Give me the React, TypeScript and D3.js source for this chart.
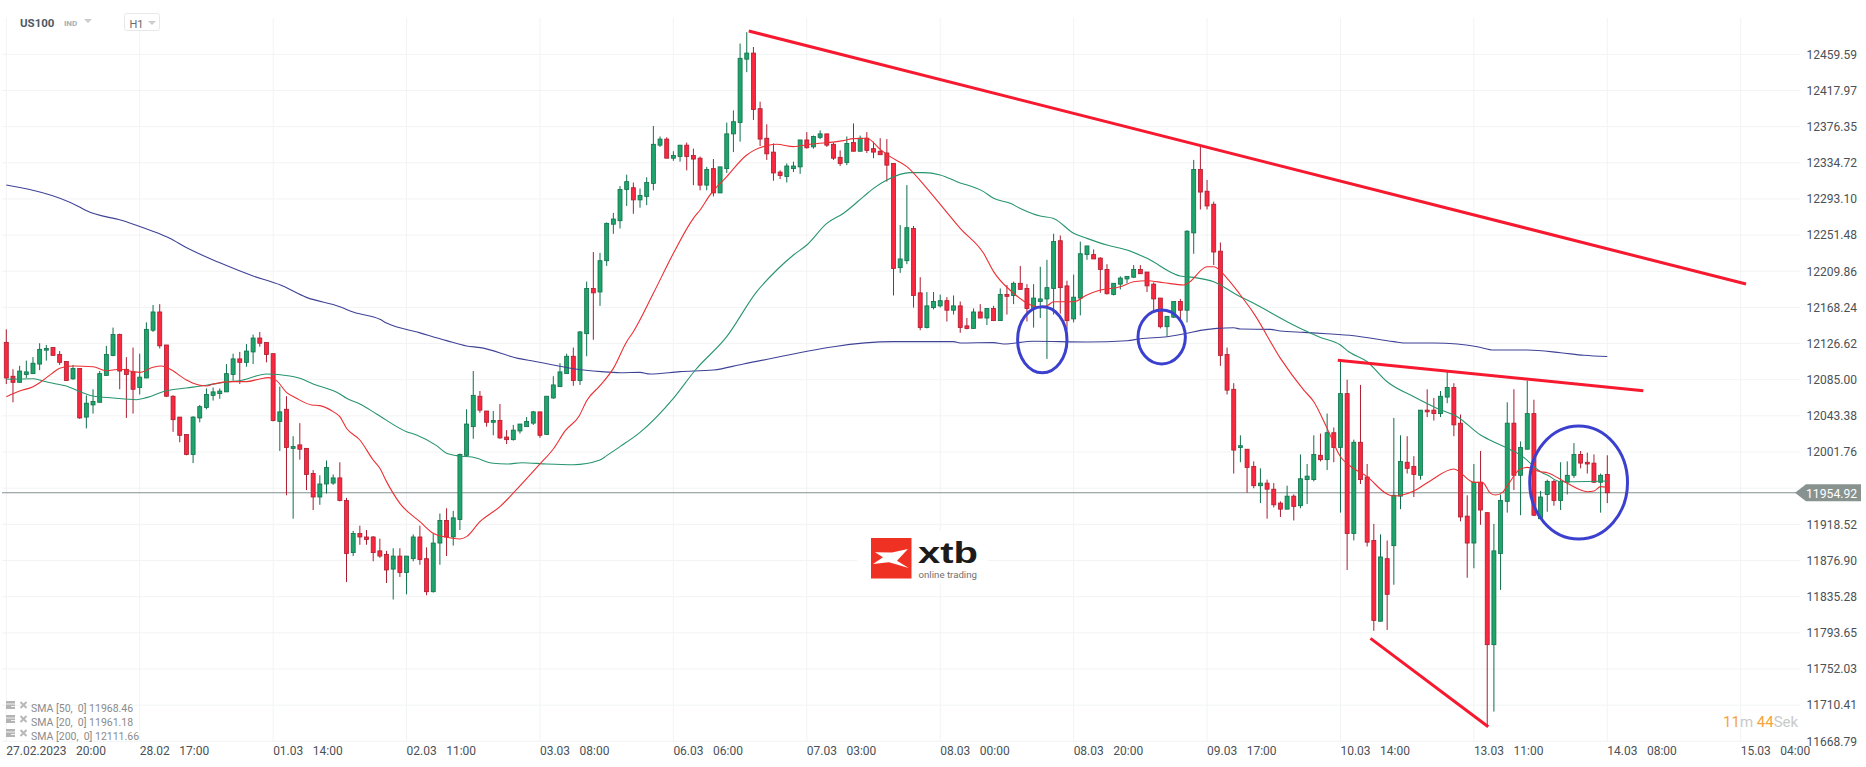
import React, { useRef, useEffect } from 'react';
import * as d3 from 'd3';

// hourly candles, bar 0 = 27.02 20:00, 20 bars between two time labels
const opens = [
  12128,12089,12082,12091,12092,12103,12119,12122,12114,12106,12086,12098,12042,12056,12059,12090,12113,12137,12097,12094,
  12076,12087,12142,12163,12125,12066,12042,12022,11999,12041,12053,12067,12069,12071,12091,12109,12105,12117,12133,12128,
  12115,12037,12051,12006,12010,12006,11977,11950,11965,11966,11972,11946,11886,11908,11904,11904,11888,11884,11867,11882,
  11863,11879,11904,11879,11841,11897,11923,11904,11924,11998,12031,12066,12049,12036,12038,12019,12016,12026,12031,12035,
  12048,12022,12064,12077,12092,12112,12084,12138,12190,12186,12222,12264,12268,12304,12306,12292,12296,12311,12355,12362,
  12340,12342,12355,12343,12340,12309,12328,12300,12328,12368,12381,12454,12461,12397,12363,12347,12324,12319,12328,12330,
  12361,12353,12364,12368,12356,12341,12335,12358,12348,12363,12351,12348,12346,12334,12214,12222,12259,12185,12145,12168,
  12170,12176,12165,12170,12147,12144,12163,12156,12167,12153,12183,12182,12196,12190,12167,12175,12178,12190,12245,12193,
  12155,12179,12229,12229,12225,12212,12183,12195,12201,12203,12212,12209,12195,12179,12146,12157,12175,12165,12254,12327,
  12302,12287,12233,12114,12074,12007,12005,11985,11963,11966,11959,11943,11936,11951,11940,11970,11970,11998,11993,12024,
  12007,12069,11908,12013,11973,11900,11807,11879,11894,11951,11990,11985,11975,12050,12050,12046,12065,12076,12035,11928,
  11897,11967,11932,11780,11885,11945,12035,11975,12005,12046,11925,11953,11968,11946,11967,11975,11999,11990,11989,11967,11976,
];
const highs = [
  12143,12097,12101,12107,12111,12127,12125,12122,12118,12106,12102,12098,12067,12074,12095,12124,12145,12138,12111,12122,
  12115,12151,12171,12172,12125,12067,12042,12022,12043,12056,12075,12076,12075,12103,12115,12117,12126,12137,12140,12128,
  12115,12077,12066,12020,12035,12006,11981,11975,11992,11976,11990,11949,11911,11917,11912,11905,11902,11888,11891,11891,
  11882,11907,11917,11892,11908,11931,11937,11934,12000,12051,12095,12072,12049,12049,12057,12027,12033,12034,12042,12049,
  12048,12066,12089,12104,12115,12122,12141,12198,12232,12231,12266,12277,12308,12321,12312,12305,12318,12377,12365,12364,
  12348,12355,12358,12351,12342,12330,12339,12330,12381,12395,12472,12485,12468,12405,12379,12357,12326,12334,12336,12361,
  12370,12366,12372,12368,12358,12349,12365,12380,12366,12370,12359,12363,12362,12334,12263,12309,12262,12203,12186,12186,
  12183,12180,12182,12175,12156,12167,12172,12167,12170,12190,12194,12198,12216,12195,12195,12215,12223,12253,12251,12199,
  12206,12244,12239,12235,12226,12218,12196,12204,12204,12217,12217,12209,12197,12179,12158,12175,12178,12257,12338,12353,
  12315,12290,12243,12122,12081,12021,12005,11991,11983,11970,11966,11945,11963,11953,11999,11988,12021,12023,12046,12030,
  12107,12085,12016,12079,11988,11919,11907,11900,12041,12021,12020,11997,12050,12074,12064,12072,12095,12081,12045,11952,
  11988,12003,11932,11919,11953,12059,12074,12014,12084,12062,11957,11970,11970,11990,11991,12012,12003,12001,11999,11977,11998,
];
const lows = [
  12080,12059,12082,12087,12092,12096,12107,12113,12102,12084,12085,12040,12029,12046,12059,12090,12112,12074,12041,12046,
  12068,12087,12140,12121,12065,12025,12013,11998,11989,12036,12051,12061,12063,12071,12084,12080,12100,12103,12123,12105,
  12037,12003,11952,11925,11993,11958,11935,11941,11954,11964,11945,11852,11882,11895,11895,11876,11880,11851,11832,11858,
  11838,11876,11872,11837,11840,11872,11882,11894,11912,11996,12017,12047,12031,12021,12017,12011,12015,12023,12031,12033,
  12018,12022,12063,12077,12092,12078,12079,12112,12131,12170,12216,12253,12259,12285,12276,12283,12286,12303,12353,12340,
  12337,12336,12326,12309,12303,12303,12296,12300,12323,12347,12359,12439,12384,12354,12338,12314,12316,12312,12324,12322,
  12351,12351,12362,12353,12338,12331,12332,12348,12348,12346,12340,12344,12313,12182,12208,12218,12168,12142,12144,12166,
  12168,12152,12160,12139,12143,12144,12156,12148,12153,12153,12160,12172,12189,12152,12145,12156,12109,12160,12161,12142,
  12151,12159,12223,12224,12185,12183,12182,12189,12196,12202,12207,12186,12165,12144,12135,12156,12153,12151,12230,12281,
  12281,12217,12101,12068,11977,11990,11955,11960,11943,11925,11938,11927,11936,11923,11937,11942,11968,11991,11981,11990,
  11932,11866,11900,11965,11893,11796,11807,11797,11849,11936,11977,11950,11970,12042,12038,12042,12058,12020,11922,11857,
  11868,11918,11686,11703,11843,11932,11958,11929,12005,11928,11925,11933,11940,11935,11953,11972,11983,11977,11966,11932,11943,
];
const closes = [
  12087,12082,12095,12094,12104,12120,12121,12113,12105,12084,12098,12041,12058,12060,12092,12114,12137,12095,12091,12074,
  12088,12143,12163,12124,12066,12039,12021,11999,12042,12054,12068,12071,12072,12092,12109,12105,12118,12133,12127,12114,
  12038,12048,12007,12008,12005,11976,11950,11965,11984,11972,11946,11885,11908,11904,11901,11886,11882,11866,11882,11863,
  11882,11904,11878,11841,11897,11923,11904,11926,11999,12034,12067,12050,12036,12038,12018,12016,12027,12034,12037,12048,
  12021,12066,12079,12094,12112,12084,12140,12190,12185,12222,12265,12270,12304,12313,12292,12297,12312,12356,12362,12340,
  12343,12355,12342,12339,12309,12327,12300,12330,12368,12382,12455,12461,12396,12362,12345,12323,12320,12331,12331,12361,
  12352,12365,12368,12355,12340,12334,12357,12348,12363,12349,12347,12344,12332,12213,12224,12260,12182,12145,12170,12175,
  12176,12165,12170,12145,12144,12163,12156,12167,12153,12183,12181,12196,12189,12167,12179,12178,12191,12244,12191,12153,
  12180,12230,12239,12224,12212,12184,12196,12202,12204,12212,12207,12193,12178,12146,12158,12175,12165,12256,12327,12301,
  12285,12232,12113,12073,12004,12009,11984,11963,11966,11959,11941,11936,11951,11939,11971,11974,11999,11993,12024,12007,
  12069,11908,12013,11970,11898,11808,11881,11838,11952,11991,11983,11976,12050,12048,12046,12066,12076,12033,11927,11897,
  11967,11935,11780,11888,11946,12035,11975,12007,12046,11929,11950,11968,11946,11968,11975,11999,11989,11988,11967,11975,11954.92,
];

// moving averages as [bar, price], bars can fall between candles
const sma20 = [
  [0,12065.5],[2,12072],[4,12077],[5,12081.6],[7,12093.1],[8,12098.1],[10,12100.8],[13,12100],[15,12095.4],[17,12097],
  [19,12094.3],[20,12093.5],[22,12099.3],[23.3,12100.8],[24.3,12098.1],[27,12084.7],[28,12080.9],[30,12077.8],[31,12080.1],[34,12082.8],
  [36,12082.8],[38,12085.9],[39.3,12087.4],[40.5,12083.9],[42,12070.5],[43.5,12063.6],[45.8,12055.9],[47,12055.2],[49,12048.3],[50,12042.5],
  [51,12029.1],[53,12015.6],[55,11992.6],[56,11983],[57,11967.7],[59,11942.7],[62,11921.6],[64,11908.2],[66,11903.6],[68,11901.7],
  [69,11904.4],[71,11921.6],[74,11938.9],[77,11962.7],[80,11988],[82,12005.3],[83.8,12026.4],[85.9,12043.6],[87,12060.9],[89,12078.2],
  [91,12098.1],[93,12128.8],[94,12140.3],[97,12184.5],[100,12230.5],[103,12270.8],[104,12280.4],[105.5,12297.7],[108,12318.8],[111,12343.7],
  [112,12348.7],[114,12354.4],[115.5,12356],[118,12353.3],[120.5,12356],[125.5,12360.2],[127,12362.5],[129,12362.9],[131,12350.2],[132.5,12341.8],
  [135,12330.3],[138,12305.3],[140.5,12282.3],[143,12259.3],[146.5,12230.5],[148,12209.4],[151,12184.5],[152.5,12175.6],[154.5,12169],[156,12170.2],
  [157,12174.8],[160,12174.8],[162,12182.5],[164,12188.2],[167,12192],[169,12197.8],[171,12199],[173.5,12196.7],[176.5,12194],[177.25,12196.7],
  [180,12215],[181,12215],[183,12201.7],[185,12182.5],[187,12161.4],[191,12109.6],[194.5,12073.1],[196,12059.7],[198,12029],[200,11996.4],
  [201.25,11986.8],[204,11973.4],[207,11953.4],[208,11951.1],[211,11956.9],[213.5,11968.8],[217,11982.2],[220,11966.8],[221.25,11966.8],[222.5,11954.2],
  [223.25,11952.3],[224.25,11955],[225.25,11965.7],[226.75,11981],[228,11984.1],[230,11979.1],[231,11978],[234,11965.7],[237,11956.1],[238,11956.9],
  [239,11961.9],[240,11961.18],
];
const sma50 = [
  [0,12085.5],[4,12086.2],[5.5,12083.5],[7,12080.9],[9,12077.8],[11,12071.3],[13,12066.3],[16,12064],[19.5,12062],[21,12064.4],
  [24,12072.4],[27,12075.5],[30,12078.6],[33,12082.4],[35,12083.9],[39,12091.6],[42.5,12089.3],[44,12086.6],[46,12080.1],[50,12068.6],
  [51,12063.6],[53,12057.1],[55.5,12045.6],[60,12025.2],[61.5,12021.4],[64.5,12009.1],[66,12000.3],[67.5,11997.6],[70,11995.7],[73,11988.8],
  [75,11988],[77.3,11989.5],[81,11988],[85,11987.2],[89,11992.6],[90,11997.6],[92,12008],[95,12024.4],[100,12063.6],[103.3,12096.2],
  [108,12134.6],[112.5,12186.4],[115.5,12211.3],[118,12228.6],[120,12240.1],[123,12265],[125.5,12276.6],[128.5,12295.7],[130,12305.3],[132,12314.9],
  [135.5,12323.4],[137.5,12323.4],[140,12320.7],[142.5,12313],[146.5,12301.5],[148,12293.8],[150.5,12288],[152,12282.2],[155,12273.4],[157,12270.7],
  [160,12253.5],[162,12247.7],[165,12240],[168,12234.3],[171,12224.7],[176,12204.3],[178,12202.8],[181,12197.8],[184.5,12182.5],[187,12172.9],
  [192,12151.8],[194.5,12142.2],[197,12133.7],[200,12124.9],[201.25,12117.2],[204,12105.7],[207,12082.7],[211,12065.4],[214.5,12052],[217.5,12042.4],
  [221,12021.3],[224,12009.8],[227,11998.3],[230.25,11978],[231,11975.3],[233,11967.6],[240,11968.46],
];
const sma200 = [
  [0,12309.1],[10.9,12284.2],[11.8,12280.4],[18,12266.9],[19.8,12262],[22.8,12253.5],[24.5,12247.8],[26.9,12237.4],[32.2,12219],[37,12204.4],
  [41.1,12194],[45,12179.8],[50,12169.1],[52.1,12162.6],[56,12154.5],[57.1,12149.9],[61.9,12139.2],[66,12130],[69,12123.8],[71.1,12121.9],
  [76.7,12109.6],[79.1,12106.2],[82,12102],[85,12097.7],[89.2,12094.3],[92,12093.1],[95,12093.5],[96.5,12091.6],[101,12094.3],[106,12096.2],
  [110.5,12103.1],[133,12128.8],[142,12128.8],[143,12127.3],[148,12127.7],[149.5,12126.1],[154,12129.2],[162,12128.4],[168,12129.9],[170,12132.2],
  [174,12134.5],[177,12138.4],[179,12141.8],[181.5,12144.1],[184,12144.9],[185,12143.3],[189.5,12143],[191,12141],[194.5,12139.5],[198,12138],
  [202,12135.7],[208,12128.8],[210,12127.2],[214,12127.2],[217.5,12126.1],[220.5,12123],[223,12119.2],[228,12119.2],[233,12116.1],[236.5,12113.1],
  [240,12111.66],
];

// hand drawn trend lines: bar, price, bar, price
const trendLines = [
  [111.3, 12486.4, 260.8, 12195.2],
  [199.6, 12107.3, 245.4, 12072.4],
  [204.5, 11787.3, 222.15, 11685.6],
];
// hand drawn circles: bar, price, radius in bars, radius in price
const circles = [
  [155.3, 12131, 3.7, 38],
  [173.2, 12134.2, 3.55, 31],
  [235.7, 11966.7, 7.33, 65],
];

const priceTicks = [
  '12459.59','12417.97','12376.35','12334.72','12293.10','12251.48','12209.86','12168.24','12126.62','12085.00',
  '12043.38','12001.76','11960.14','11918.52','11876.90','11835.28','11793.65','11752.03','11710.41','11668.79',
];
const hiddenTick = '11960.14';
const timeDates = ['27.02.2023','28.02','01.03','02.03','03.03','06.03','07.03','08.03','08.03','09.03','10.03','13.03','14.03','15.03'];
const timeHours = ['20:00','17:00','14:00','11:00','08:00','06:00','03:00','00:00','20:00','17:00','14:00','11:00','08:00','04:00'];
const legendRows = ['SMA [50,  0] 11968.46','SMA [20,  0] 11961.18','SMA [200,  0] 12111.66'];
const lastPrice = 11954.92;

const WIDTH = 1866;
const HEIGHT = 767;
const FONT = 'Roboto, sans-serif';
const GREEN = '#1fa56c';
const GREEN_DARK = '#0f6f4a';
const RED = '#f9283f';
const RED_DARK = '#ab1c30';
const GRID = '#f2f3f4';

const App = () => {
  const ref = useRef(null);

  useEffect(() => {
    const svg = d3.select(ref.current);
    svg.selectAll('*').remove();

    const x = d3.scaleLinear().domain([0, 240]).range([6.3, 1607.3]);
    const y = d3.scaleLinear().domain([11668.79, 12459.59]).range([741.3, 54.3]);
    const gridTop = 18;
    const gridBottom = y(11668.79);

    // grid
    svg.append('g').selectAll('line')
      .data(priceTicks)
      .enter().append('line')
      .attr('x1', 2).attr('x2', 1800)
      .attr('y1', d => y(+d)).attr('y2', d => y(+d))
      .attr('stroke', GRID).attr('stroke-width', 1);
    svg.append('g').selectAll('line')
      .data(timeDates)
      .enter().append('line')
      .attr('x1', (d, i) => x(i * 20)).attr('x2', (d, i) => x(i * 20))
      .attr('y1', gridTop).attr('y2', gridBottom)
      .attr('stroke', GRID).attr('stroke-width', 1);

    // logo sits on a white patch over the grid
    const logo = svg.append('g');
    logo.append('rect').attr('x', 857).attr('y', 531).attr('width', 131).attr('height', 53).attr('fill', '#fff');
    logo.append('rect').attr('x', 871).attr('y', 538).attr('width', 40.5).attr('height', 40.5).attr('fill', '#ef3124');
    logo.append('polygon')
      .attr('points', '875,552.3 892,552.5 907.9,549 897,560.7 908.7,568 889,562.3 873,564 883,557.3')
      .attr('fill', '#fff');
    logo.append('text')
      .attr('x', 918).attr('y', 562.5)
      .attr('font-family', '"Liberation Sans", sans-serif').attr('font-weight', 700).attr('font-size', 30)
      .attr('textLength', 60).attr('lengthAdjust', 'spacingAndGlyphs')
      .attr('fill', '#1d1a1a').text('xtb');
    logo.append('text')
      .attr('x', 918.5).attr('y', 577.5)
      .attr('font-family', FONT).attr('font-size', 9)
      .attr('textLength', 58.5).attr('lengthAdjust', 'spacingAndGlyphs')
      .attr('fill', '#6f6f6f').text('online trading');

    // last price line
    svg.append('line')
      .attr('x1', 2).attr('x2', 1800)
      .attr('y1', y(lastPrice)).attr('y2', y(lastPrice))
      .attr('stroke', '#84918f').attr('stroke-width', 1.1);

    // candles
    const bars = d3.range(opens.length);
    const isUp = (i: number) => closes[i] >= opens[i];
    const candles = svg.append('g');
    candles.selectAll('line')
      .data(bars)
      .enter().append('line')
      .attr('x1', i => x(i)).attr('x2', i => x(i))
      .attr('y1', i => y(highs[i])).attr('y2', i => y(lows[i]))
      .attr('stroke', i => (isUp(i) ? GREEN_DARK : RED_DARK))
      .attr('stroke-width', 1);
    candles.selectAll('rect')
      .data(bars)
      .enter().append('rect')
      .attr('x', i => x(i) - 2)
      .attr('width', 4)
      .attr('y', i => y(Math.max(opens[i], closes[i])))
      .attr('height', i => Math.abs(y(opens[i]) - y(closes[i])))
      .attr('fill', i => (isUp(i) ? GREEN : RED))
      .attr('stroke', i => (isUp(i) ? GREEN_DARK : RED_DARK))
      .attr('stroke-width', 0.8);

    // moving averages
    const line = d3.line()
      .x(d => x(d[0]))
      .y(d => y(d[1]))
      .curve(d3.curveMonotoneX);
    [[sma200, '#3f4396'], [sma50, '#27956d'], [sma20, '#ec2f33']].forEach(([series, color]) => {
      svg.append('path')
        .attr('d', line(series))
        .attr('fill', 'none')
        .attr('stroke', color)
        .attr('stroke-width', 1.1);
    });

    // trend lines and circles
    svg.append('g').selectAll('line')
      .data(trendLines)
      .enter().append('line')
      .attr('x1', d => x(d[0])).attr('y1', d => y(d[1]))
      .attr('x2', d => x(d[2])).attr('y2', d => y(d[3]))
      .attr('stroke', '#f6192f').attr('stroke-width', 3);
    svg.append('g').selectAll('ellipse')
      .data(circles)
      .enter().append('ellipse')
      .attr('cx', d => x(d[0])).attr('cy', d => y(d[1]))
      .attr('rx', d => x(d[2]) - x(0)).attr('ry', d => y(0) - y(d[3]))
      .attr('fill', 'none').attr('stroke', '#3c40cf').attr('stroke-width', 3);

    // price axis
    svg.append('g').selectAll('text')
      .data(priceTicks.filter(d => d !== hiddenTick))
      .enter().append('text')
      .attr('x', 1806.5).attr('y', d => y(+d) + 4.3)
      .attr('font-family', FONT).attr('font-size', 12).attr('fill', '#4a5157')
      .text(d => d);

    // last price tag
    svg.append('polygon')
      .attr('points', () => {
        const c = y(lastPrice);
        return `1795,${c} 1806,${c - 8.5} 1861,${c - 8.5} 1861,${c + 8.5} 1806,${c + 8.5}`;
      })
      .attr('fill', '#88938f');
    svg.append('text')
      .attr('x', 1806).attr('y', y(lastPrice) + 5)
      .attr('font-family', FONT).attr('font-size', 12.2).attr('fill', '#fff')
      .text(lastPrice.toFixed(2));

    // time axis
    const timeLabels = svg.append('g').selectAll('text')
      .data(timeDates)
      .enter().append('text')
      .attr('x', (d, i) => x(i * 20))
      .attr('y', 755)
      .attr('font-family', FONT).attr('font-size', 12).attr('fill', '#4a5157');
    timeLabels.append('tspan').text(d => d);
    timeLabels.append('tspan').attr('dx', 9.5).text((d, i) => timeHours[i]);

    // countdown
    const timer = svg.append('text')
      .attr('x', 1723).attr('y', 727)
      .attr('font-family', FONT).attr('font-size', 15);
    timer.append('tspan').attr('fill', '#f7a33c').text('11');
    timer.append('tspan').attr('fill', '#c9c9c9').text('m ');
    timer.append('tspan').attr('fill', '#f7a33c').text('44');
    timer.append('tspan').attr('fill', '#c9c9c9').text('Sek');

    // indicator legend
    const legend = svg.append('g').selectAll('g')
      .data(legendRows)
      .enter().append('g')
      .attr('transform', (d, i) => `translate(0,${i * 14})`);
    legend.append('rect').attr('x', 6).attr('y', 701).attr('width', 9).attr('height', 8).attr('fill', '#b3b3b3');
    legend.append('line').attr('x1', 6).attr('x2', 15).attr('y1', 704).attr('y2', 704).attr('stroke', '#fff').attr('stroke-width', 0.8);
    legend.append('line').attr('x1', 11).attr('x2', 15).attr('y1', 706.5).attr('y2', 706.5).attr('stroke', '#fff').attr('stroke-width', 0.8);
    legend.append('path').attr('d', 'M20.5,702 L26.5,708 M26.5,702 L20.5,708').attr('stroke', '#b8b8b8').attr('stroke-width', 2);
    legend.append('text')
      .attr('x', 31).attr('y', 712)
      .attr('xml:space', 'preserve')
      .style('white-space', 'pre')
      .attr('font-family', FONT).attr('font-size', 10.5).attr('fill', '#8b8b8b')
      .text(d => d);

    // instrument header
    svg.append('text').attr('x', 20).attr('y', 27)
      .attr('font-family', FONT).attr('font-size', 11.5).attr('font-weight', 700).attr('fill', '#4d5a63').text('US100');
    svg.append('text').attr('x', 64).attr('y', 26)
      .attr('font-family', FONT).attr('font-size', 8).attr('font-weight', 700).attr('fill', '#9fb0b8').text('IND');
    svg.append('polygon').attr('points', '84,19 92,19 88,23').attr('fill', '#cccccc');
    svg.append('rect').attr('x', 124.5).attr('y', 13.5).attr('width', 35).attr('height', 17).attr('rx', 2)
      .attr('fill', '#fff').attr('stroke', '#e8e8e8');
    svg.append('text').attr('x', 129.5).attr('y', 28)
      .attr('font-family', FONT).attr('font-size', 11).attr('fill', '#666c70').text('H1');
    svg.append('polygon').attr('points', '148,21 156,21 152,25').attr('fill', '#cccccc');
  }, []);

  return (
    <svg
      ref={ref}
      width={WIDTH}
      height={HEIGHT}
      style={{ position: 'absolute', left: 0, top: 0, display: 'block', background: '#fff' }}
    />
  );
};

export default App;
